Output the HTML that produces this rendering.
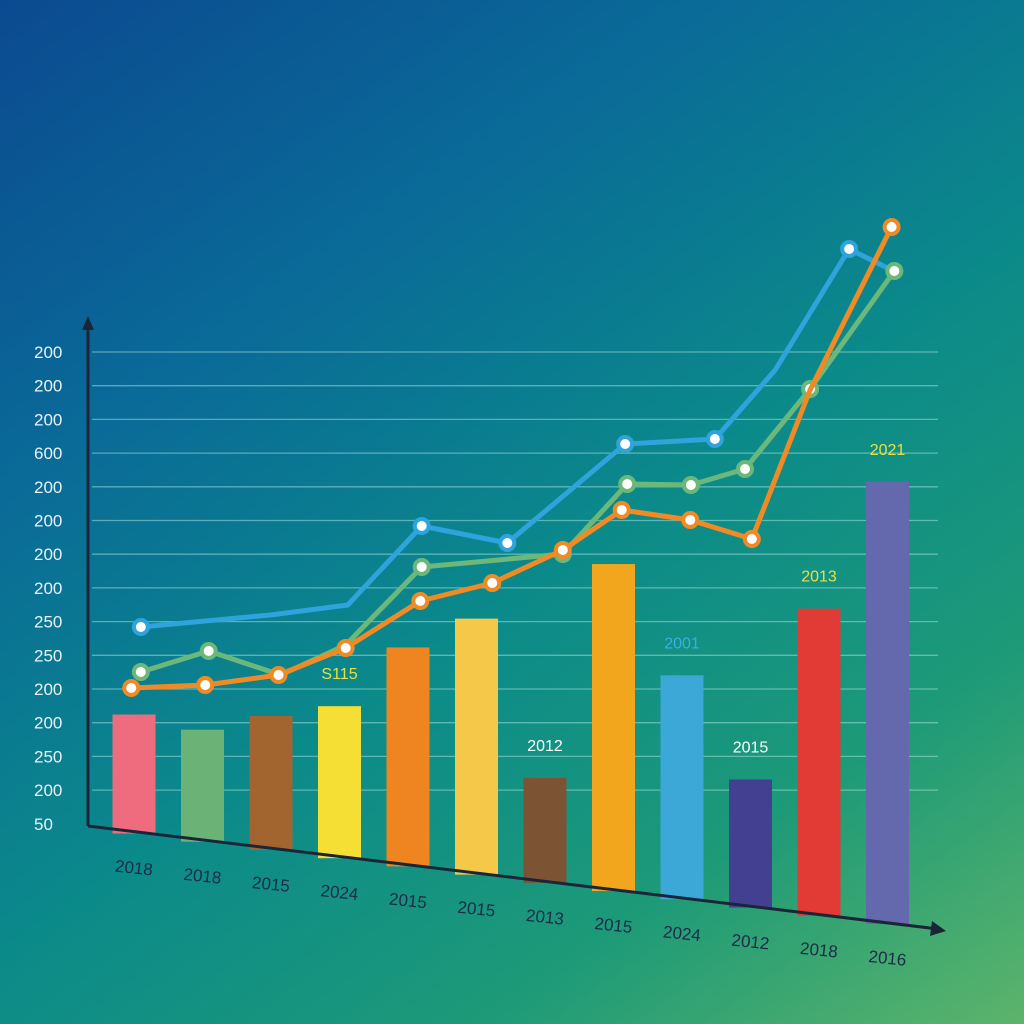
<!DOCTYPE html>
<html><head><meta charset="utf-8">
<style>
html,body{margin:0;padding:0;width:1024px;height:1024px;overflow:hidden}
body{background:linear-gradient(145deg,#0b4a90 0%,#0a6a98 28%,#0b8a8a 55%,#1d9a78 78%,#5cb46a 100%)}
svg{display:block}
text{font-family:"Liberation Sans",sans-serif}
</style></head>
<body>
<svg id="chart" width="1024" height="1024" viewBox="0 0 1024 1024" xmlns="http://www.w3.org/2000/svg"></svg>
<script>
const categories=["2018","2018","2015","2024","2015","2015","2013","2015","2024","2012","2018","2016"];
const barValues=[117,110,132,150,217,254,103,325,222,126,305,440];
const barColors=["#ee6c7e","#6bb276","#a3652f","#f6df35","#ee8520","#f5c84a","#7c5433","#f2a61e","#3ba8d8","#433f91","#e23a34","#6468ad"];
const barLabels=[null,null,null,"S115",null,null,"2012",null,"2001","2015","2013","2021"];
const barLabelColors=["","","","#e8e040","","","#ffffff","","#3ab0e0","#ffffff","#e8e040","#e8e040"];
const yTicks=["200","200","200","600","200","200","200","200","250","250","200","200","250","200","50"];
const blueX=[0.1,1.99,3.12,4.2,5.45,7.17,8.48,9.36,10.44,11.0];
const blueY=[398,422,442,600,566,764,774,912,1154,1116];
const greenX=[0.1,1.09,2.14,3.09,4.2,6.26,7.2,8.13,8.92,9.87,11.1];
const greenY=[308,350,302,362,518,544,684,682,714,874,1110];
const orangeX=[-0.04,1.04,2.11,3.09,4.18,5.23,6.26,7.12,8.12,9.02,9.87,11.06];
const orangeY=[276,282,302,356,450,486,552,632,612,574,872,1198];
const blueMarkers=[0,3,4,5,6,8];
const greenMarkers=[0,1,4,5,6,7,8,9,10];
const orangeMarkers=[0,1,2,3,4,5,6,7,8,9,11];

const NS="http://www.w3.org/2000/svg";
const svg=document.getElementById('chart');
function mk(t,a,p){const e=document.createElementNS(NS,t);for(const k in a)e.setAttribute(k,a[k]);(p||svg).appendChild(e);return e;}
const xPos=i=>134+i*68.5;
const baseY=x=>826+(x-88)*0.12;
const barScale=1;
const lineY=v=>826-v*0.5;
const gridTop=352,gridStep=33.7;
yTicks.forEach((t,i)=>{
  const y=gridTop+i*gridStep;
  if(i<yTicks.length-1){const g=mk('line',{x1:92,y1:y,x2:938,y2:y,stroke:'rgba(170,230,225,0.5)','stroke-width':1.3});
  
  }
  const tx=mk('text',{x:34,y:y+6,'font-size':17,fill:'#e8f2f8'});tx.textContent=t;
  
  
});
categories.forEach((c,i)=>{
  const cx=xPos(i),l=cx-21.5,b=baseY(cx),top=b-barValues[i]*barScale;
  const r=mk('rect',{x:l,y:top,width:43,height:b-top+2,fill:barColors[i]});
  
  
  if(barLabels[i]){const t=mk('text',{x:cx,y:top-27,'font-size':16,fill:barLabelColors[i],'text-anchor':'middle'});t.textContent=barLabels[i];
  
  }
  const xl=mk('text',{x:cx,y:baseY(cx)+42,'font-size':17,fill:'#1c2b48','text-anchor':'middle',transform:`rotate(6 ${cx} ${baseY(cx)+36})`});xl.textContent=c;
  
  
});
const ya=mk('path',{d:'M88 826 L88 322',stroke:'#1a2638','stroke-width':3,fill:'none'});


mk('path',{d:'M82 330 L88 316 L94 330 Z',fill:'#1a2638'});
const xa=mk('path',{d:'M88 826 L938 929',stroke:'#1a2638','stroke-width':3,fill:'none'});


mk('path',{d:'M932 921 L946 931 L930 936 Z',fill:'#1a2638'});
function series(xs,ys,color,markers,name){
  const pts=xs.map((x,i)=>[xPos(x),lineY(ys[i])]);
  const p=mk('polyline',{points:pts.map(p=>p.join(',')).join(' '),fill:'none',stroke:color,'stroke-width':5,'stroke-linejoin':'round','stroke-linecap':'round'});
  
  
  markers.forEach(i=>{const c=mk('circle',{cx:pts[i][0],cy:pts[i][1],r:7,fill:'#fff',stroke:color,'stroke-width':4});
  
  });
}
series(blueX,blueY,'#2ea3dc',blueMarkers,'blue-series');
series(greenX,greenY,'#6cb87a',greenMarkers,'green-series');
series(orangeX,orangeY,'#f08a24',orangeMarkers,'orange-series');
</script>
</body></html>
